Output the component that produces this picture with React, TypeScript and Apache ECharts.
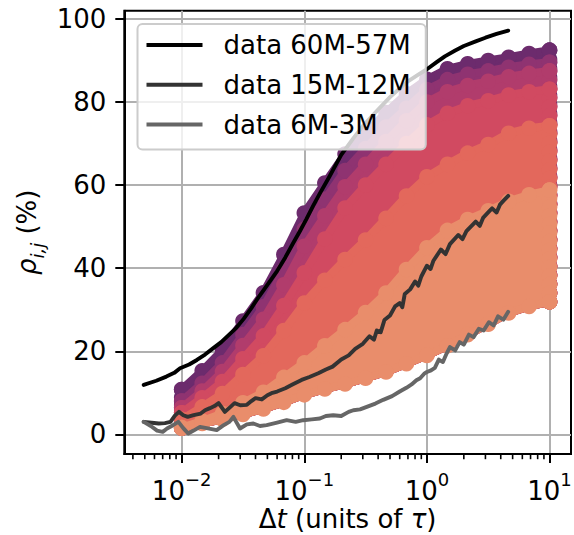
import React, { useEffect, useRef } from "react";
import * as echarts from "echarts";

const FONT = "DejaVu Sans";

// ---- axes ----
const X_MIN_LOG = -2.468;
const X_MAX_LOG = 1.175;
const Y_MIN = -4.74;
const Y_MAX = 102;
const X_TICK_EXPONENTS = [-2, -1, 0, 1];
const Y_TICKS = [0, 20, 40, 60, 80, 100];
const MINOR_TICKS = [
  0.004, 0.005, 0.006, 0.007, 0.008, 0.009,
  0.02, 0.03, 0.04, 0.05, 0.06, 0.07, 0.08, 0.09,
  0.2, 0.3, 0.4, 0.5, 0.6, 0.7, 0.8, 0.9,
  2, 3, 4, 5, 6, 7, 8, 9,
];

// ---- scatter bands (values at each Δt position) ----
const BAND_X = [0.01, 0.0147, 0.0215, 0.0316, 0.0464, 0.0681, 0.1, 0.147, 0.215, 0.316, 0.464, 0.681, 1, 1.47, 2.15, 3.16, 4.64, 6.81, 10];
const BAND_BOTTOM = [1.5, 2.6, 3.6, 4.8, 6.1, 7.7, 9.5, 10.9, 12.1, 13.5, 15, 17, 19, 21.3, 24, 26.5, 29.2, 30.8, 31.9];
const BAND_TOP_1 = [10.8, 15.3, 20.3, 27.3, 34.1, 43.3, 53.3, 60.5, 67.5, 72.5, 77.5, 82, 85.5, 88, 89.2, 90, 90.8, 91.7, 92.5];
const BAND_TOP_2 = [8, 12.3, 17.2, 24, 30.7, 39.6, 49.4, 56.6, 63.5, 68.8, 74, 78.5, 83, 85.4, 86.7, 87.5, 88.4, 89.1, 89.6];
const BAND_TOP_3 = [6.4, 10.4, 15.1, 21.4, 27.7, 36, 45.3, 52.6, 59.6, 65, 70.5, 75.5, 80, 82.5, 84, 85, 86.1, 86.9, 87.5];
const BAND_TOP_4 = [5.2, 8.8, 12.7, 18.2, 23.7, 31, 38.9, 47, 54.5, 60, 65, 70, 74.5, 77.3, 79.1, 80.3, 81.7, 82.5, 83.1];
const BAND_TOP_5 = [3.6, 6.6, 9.8, 14.4, 18.9, 25, 31.6, 37.1, 42.1, 46.8, 52, 57.4, 62, 65, 67.7, 69.8, 72.5, 73.7, 74.3];
const BAND_TOP_6 = [1.6, 3.2, 5, 7.6, 10.1, 13.7, 17.2, 21.3, 25.2, 29.3, 34, 39.7, 44.9, 49.1, 51.7, 53.8, 56.1, 57.7, 58.8];
const BAND_TOPS = [BAND_TOP_1, BAND_TOP_2, BAND_TOP_3, BAND_TOP_4, BAND_TOP_5, BAND_TOP_6];
const BAND_COLORS = ["#6c2b6d", "#8f3371", "#b13c6c", "#d14a61", "#e3685c", "#e98d6b"];

// ---- lines ----
const LINE_NAMES = ["data 60M-57M", "data 15M-12M", "data 6M-3M"];
const LINE_COLORS = ["#000000", "#333333", "#666666"];

const L60_X = [0.0049, 0.0062, 0.0075, 0.0087, 0.0097, 0.0115, 0.0133, 0.0155, 0.018, 0.021, 0.025, 0.028, 0.032, 0.037, 0.043, 0.05, 0.06, 0.07, 0.081, 0.092, 0.104, 0.118, 0.134, 0.16, 0.2, 0.25, 0.3, 0.4, 0.5, 0.6, 0.7, 0.85, 1.0, 1.2, 1.4, 1.7, 2.0, 2.5, 3.0, 3.7, 4.6];
const L60_Y = [11.9, 12.9, 13.9, 14.8, 15.9, 16.8, 17.9, 19.2, 20.7, 22.2, 24.3, 25.7, 27.8, 30.4, 33.3, 36.0, 39.3, 42.6, 46.0, 48.9, 51.8, 55.0, 58.0, 62.0, 67.3, 71.2, 74.2, 78.2, 81.2, 83.3, 85.0, 86.6, 87.9, 89.6, 91.0, 92.4, 93.5, 94.6, 95.5, 96.4, 97.2];

const L15_X = [0.0049, 0.0057, 0.0065, 0.0073, 0.0081, 0.0088, 0.0095, 0.0103, 0.0112, 0.0125, 0.0143, 0.0155, 0.017, 0.0185, 0.02, 0.0225, 0.025, 0.027, 0.03, 0.034, 0.037, 0.04, 0.045, 0.05, 0.054, 0.06, 0.07, 0.08, 0.095, 0.11, 0.13, 0.15, 0.17, 0.2, 0.23, 0.26, 0.3, 0.34, 0.37, 0.39, 0.42, 0.45, 0.5, 0.55, 0.6, 0.63, 0.66, 0.73, 0.8, 0.85, 0.9, 1.0, 1.07, 1.13, 1.3, 1.42, 1.54, 1.8, 1.95, 2.1, 2.5, 2.7, 2.88, 3.2, 3.4, 3.7, 3.94, 4.2, 4.6];
const L15_Y = [3.0, 2.8, 2.6, 2.7, 3.0, 4.5, 5.4, 4.6, 4.2, 4.6, 5.0, 5.8, 6.3, 6.8, 7.5, 5.4, 6.6, 7.5, 7.0, 7.1, 8.0, 8.7, 8.4, 9.4, 9.9, 10.3, 11.1, 12.0, 13.1, 13.8, 14.7, 15.6, 16.3, 18.0, 19.0, 20.6, 21.8, 23.6, 22.8, 25.0, 24.6, 27.5, 28.6, 30.8, 31.6, 30.6, 33.8, 34.9, 36.8, 35.8, 38.0, 40.6, 39.8, 41.8, 44.5, 43.4, 45.8, 48.0, 47.0, 48.9, 51.2, 50.2, 52.2, 53.6, 54.4, 53.4, 55.3, 56.2, 57.4];

const L6_X = [0.0049, 0.0056, 0.0063, 0.007, 0.0076, 0.0085, 0.0094, 0.0103, 0.0113, 0.0125, 0.0141, 0.016, 0.0193, 0.022, 0.0245, 0.0264, 0.0299, 0.034, 0.0384, 0.0435, 0.0493, 0.06, 0.0718, 0.085, 0.098, 0.115, 0.134, 0.15, 0.172, 0.2, 0.23, 0.251, 0.285, 0.323, 0.38, 0.44, 0.52, 0.6, 0.68, 0.75, 0.82, 0.88, 0.95, 1.0, 1.08, 1.16, 1.25, 1.35, 1.45, 1.54, 1.7, 1.85, 2.0, 2.2, 2.4, 2.65, 2.9, 3.2, 3.5, 3.8, 4.2, 4.6];
const L6_Y = [3.0, 2.0, 0.9, 0.6, 1.4, 2.2, 3.0, 1.5, 0.2, 0.9, 1.8, 1.5, 1.0, 2.2, 3.0, 4.2, 1.4, 2.4, 2.6, 2.0, 2.2, 2.8, 3.4, 3.0, 3.4, 3.6, 3.8, 4.4, 4.6, 4.4, 5.4, 5.8, 6.0, 6.6, 7.4, 8.3, 9.2, 10.3, 11.2, 12.0, 13.0, 13.5, 14.6, 15.0, 15.4, 16.0, 18.0, 17.4, 19.5, 21.0, 20.2, 22.2, 21.6, 24.0, 23.4, 25.4, 25.0, 27.0, 26.2, 28.4, 27.6, 29.5];

const LINES_X = [L60_X, L15_X, L6_X];
const LINES_Y = [L60_Y, L15_Y, L6_Y];

const MARKER_R = 7.8;

function renderBands(params: any, api: any) {
  const i = params.dataIndex;
  const top = BAND_TOPS[i];
  const color = BAND_COLORS[i];
  const topPts = BAND_X.map((x, k) => api.coord([Math.log10(x), top[k]]));
  const botPts = BAND_X.map((x, k) => api.coord([Math.log10(x), BAND_BOTTOM[k]]));
  const children: any[] = [];
  children.push({
    type: "polygon",
    shape: { points: [...topPts, ...botPts.slice().reverse()] },
    style: { fill: color, stroke: color, lineWidth: 8, lineJoin: "round" },
  });
  const circle = (cx: number, cy: number) => ({
    type: "circle",
    shape: { cx, cy, r: MARKER_R },
    style: { fill: color },
  });
  [0, BAND_X.length - 1].forEach((k) => {
    const yT = topPts[k][1];
    const yB = botPts[k][1];
    const n = Math.max(1, Math.ceil((yB - yT) / 9));
    for (let j = 0; j <= n; j++) children.push(circle(topPts[k][0], yT + ((yB - yT) * j) / n));
  });
  topPts.forEach((p: number[]) => children.push(circle(p[0], p[1])));
  if (i === BAND_TOPS.length - 1) botPts.forEach((p: number[]) => children.push(circle(p[0], p[1])));
  return { type: "group", children };
}

function renderMinorTick(params: any, api: any) {
  const p = api.coord([api.value(0), Y_MIN]);
  return {
    type: "line",
    shape: { x1: p[0], y1: p[1], x2: p[0], y2: p[1] + 5.2 },
    style: { stroke: "#000", lineWidth: 1.6 },
  };
}

function buildOption(): any {
  const xTickVals = X_TICK_EXPONENTS.slice();
  return {
    animation: false,
    textStyle: { fontFamily: FONT },
    grid: {
      left: 124.3,
      right: 3,
      top: 10.7,
      bottom: 81,
      show: true,
      borderColor: "#000",
      borderWidth: 2,
      containLabel: false,
      outerBoundsMode: "none",
    },
    legend: {
      show: true,
      orient: "vertical",
      left: 137.5,
      top: 24,
      data: LINE_NAMES,
      icon: "rect",
      itemWidth: 56,
      itemHeight: 3.9,
      itemGap: 9.75,
      padding: [6, 15, 10, 9],
      backgroundColor: "rgba(255,255,255,0.8)",
      borderColor: "#cccccc",
      borderWidth: 2,
      borderRadius: 5,
      selectedMode: false,
      textStyle: {
        fontSize: 26,
        fontFamily: FONT,
        color: "#000",
        lineHeight: 30,
        padding: [0, 0, 0, 16],
      },
    },
    xAxis: {
      type: "value",
      min: X_MIN_LOG,
      max: X_MAX_LOG,
      axisLine: { show: true, onZero: false, lineStyle: { color: "#000", width: 2 } },
      axisTick: {
        show: true,
        length: 9,
        customValues: xTickVals,
        lineStyle: { color: "#000", width: 2 },
      },
      axisLabel: {
        show: true,
        customValues: xTickVals,
        margin: 16,
        color: "#000",
        formatter: (v: number) => {
          const e = Math.round(v);
          return `{b|10}{s|${e < 0 ? "\u2212" : ""}${Math.abs(e)}}`;
        },
        rich: {
          b: { fontSize: 26, fontFamily: FONT, color: "#000", lineHeight: 34, verticalAlign: "bottom" },
          s: { fontSize: 18, fontFamily: FONT, color: "#000", verticalAlign: "top" },
        },
      },
      splitLine: { show: true, lineStyle: { color: "#b0b0b0", width: 2 } },
      name: "{n|\u0394}{it|t}{n| (units of }{it|\u03c4}{n|)}",
      nameLocation: "middle",
      nameGap: 51,
      nameMoveOverlap: false,
      nameTextStyle: {
        fontSize: 26,
        color: "#000",
        rich: {
          n: { fontSize: 26, fontFamily: FONT, color: "#000", lineHeight: 28 },
          it: { fontSize: 26, fontFamily: FONT, color: "#000", fontStyle: "italic", lineHeight: 28 },
        },
      },
    },
    yAxis: {
      type: "value",
      min: Y_MIN,
      max: Y_MAX,
      axisLine: { show: true, onZero: false, lineStyle: { color: "#000", width: 2 } },
      axisTick: {
        show: true,
        length: 9,
        customValues: Y_TICKS,
        lineStyle: { color: "#000", width: 2 },
      },
      axisLabel: {
        show: true,
        customValues: Y_TICKS,
        margin: 18,
        fontSize: 26,
        fontFamily: FONT,
        color: "#000",
      },
      splitLine: { show: true, lineStyle: { color: "#b0b0b0", width: 2 } },
      name: "{it|\u03c1}{sub|i,j}{n| (%)}",
      nameLocation: "middle",
      nameGap: 78,
      nameRotate: 90,
      nameMoveOverlap: false,
      nameTextStyle: {
        fontSize: 26,
        color: "#000",
        rich: {
          it: { fontSize: 26, fontFamily: FONT, color: "#000", fontStyle: "italic", verticalAlign: "top", padding: [0, 0, 6, 0] },
          sub: { fontSize: 18, fontFamily: FONT, color: "#000", fontStyle: "italic", verticalAlign: "bottom" },
          n: { fontSize: 26, fontFamily: FONT, color: "#000", verticalAlign: "top", padding: [0, 0, 6, 0] },
        },
      },
    },
    series: [
      {
        type: "custom",
        name: "bands",
        coordinateSystem: "cartesian2d",
        renderItem: renderBands,
        data: BAND_COLORS.map((_, i) => [Math.log10(BAND_X[0]), BAND_BOTTOM[0], i]),
        encode: { x: 0, y: 1 },
        clip: true,
        silent: true,
        z: 1,
      },
      ...LINE_NAMES.map((name, li) => ({
        type: "line",
        name,
        data: LINES_X[li].map((x, k) => [Math.log10(x), LINES_Y[li][k]]),
        symbol: "none",
        showSymbol: false,
        lineStyle: { color: LINE_COLORS[li], width: 3.9, join: "round", cap: "round" },
        itemStyle: { color: LINE_COLORS[li] },
        z: 3,
        silent: true,
      })),
      {
        type: "custom",
        name: "minor",
        coordinateSystem: "cartesian2d",
        renderItem: renderMinorTick,
        data: MINOR_TICKS.map((v) => [Math.log10(v), Y_MIN]),
        encode: { x: 0, y: 1 },
        clip: false,
        silent: true,
        z: 5,
      },
    ],
  };
}

export default function App() {
  const ref = useRef<HTMLDivElement>(null);
  useEffect(() => {
    if (!ref.current) return;
    const chart = echarts.init(ref.current, null, { renderer: "svg" });
    chart.setOption(buildOption());
    return () => chart.dispose();
  }, []);
  return (
    <div
      ref={ref}
      style={{ position: "fixed", left: 0, top: 0, width: 574, height: 535, background: "#fff" }}
    />
  );
}
